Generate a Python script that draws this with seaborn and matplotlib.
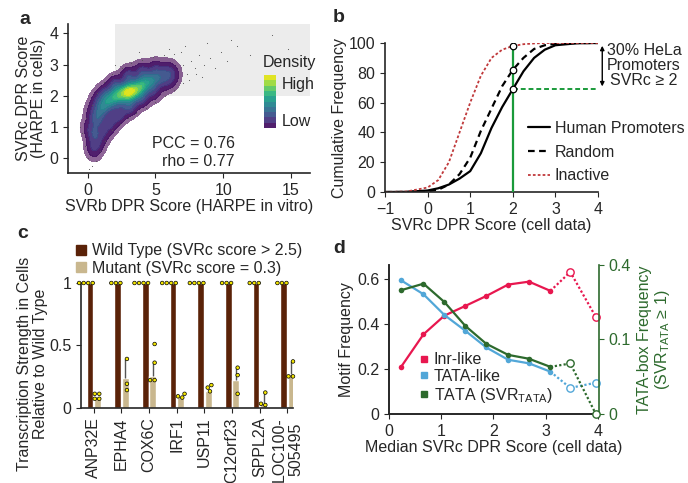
import numpy as np
import pandas as pd
import matplotlib
matplotlib.use("Agg")
import matplotlib.pyplot as plt
import seaborn as sns
from matplotlib.lines import Line2D
from matplotlib.patches import Rectangle

sns.set_style("ticks")
plt.rcParams['font.family'] = ['Liberation Sans', 'DejaVu Sans']
plt.rcParams['font.size'] = 11.5
plt.rcParams['mathtext.fontset'] = 'custom'
plt.rcParams['mathtext.rm'] = 'Liberation Sans'
plt.rcParams['axes.linewidth'] = 1.2

# ---- panel a: density cloud, three rows across the banana ----
cloud_x = [0.0, 0.3, 0.7, 1.2, 2.0, 3.0, 4.0, 5.0, 5.9, 6.4,
           0.35, 0.45, 0.7, 1.1, 1.6, 2.2, 2.8, 3.3, 3.9, 4.5, 5.1, 5.7, 6.2,
           0.5, 0.8, 1.2, 1.7, 2.3, 3.1, 4.0, 4.9, 5.8, 6.3]
cloud_y = [1.0, 1.5, 1.85, 2.1, 2.38, 2.65, 2.8, 2.9, 2.9, 2.8,
           0.4, 0.8, 1.25, 1.6, 1.85, 2.0, 2.1, 2.15, 2.3, 2.45, 2.55, 2.65, 2.65,
           0.15, 0.45, 0.8, 1.1, 1.4, 1.65, 1.9, 2.1, 2.35, 2.5]
cloud_w = [0.15, 0.18, 0.22, 0.27, 0.35, 0.4, 0.35, 0.25, 0.15, 0.1,
           0.2, 0.35, 0.45, 0.55, 0.65, 0.8, 0.95, 1.0, 0.85, 0.6, 0.4, 0.25, 0.12,
           0.12, 0.18, 0.24, 0.3, 0.4, 0.45, 0.35, 0.25, 0.15, 0.1]
speck_x = [7.0, 7.3, 7.6, 7.9, 8.2, 8.6, 9.0, 9.4, 9.8, 10.3, 11.0, 12.0, 13.6, 14.8,
           6.9, 6.4, 5.6, 4.8, 4.0, 3.2, 2.5, 1.8, 1.2, 0.7, 0.3, -0.1, -0.4, -0.2,
           0.0, 0.3, 0.6, 0.9, 1.3, 1.8, 2.4, 3.0, 3.6, 4.3, 5.0, 5.7, 6.4, 7.0,
           7.5, 8.0, 8.4, -0.6, 0.1, 2.0, 3.8, 6.0, 7.2, 8.8, 10.6]
speck_y = [3.0, 2.7, 3.1, 2.9, 3.3, 3.0, 3.2, 2.9, 3.4, 3.1, 3.6, 3.3, 3.95, 3.5,
           3.4, 3.35, 3.3, 3.25, 3.15, 3.05, 2.9, 2.7, 2.45, 2.1, 1.7, 1.3, 0.8, 0.4,
           0.0, -0.25, -0.1, 0.25, 0.55, 0.9, 1.1, 1.3, 1.45, 1.6, 1.8, 2.0, 2.2, 2.4,
           2.5, 2.7, 2.6, 1.0, -0.35, 3.0, 3.4, 3.5, 3.6, 3.7, 3.8]

# ---- panel b: cumulative curves ----
cdf_x = [-1, -0.5, 0, 0.25, 0.5, 0.75, 1, 1.25, 1.5, 1.75, 2, 2.25, 2.5, 2.75, 3, 3.5, 4]
human = [0, 0.1, 1, 2.5, 5, 9, 14, 26, 43, 57, 69, 81, 90, 95.5, 98.5, 99.8, 100]
random_seq = [0, 0, 0.5, 1.5, 5, 12, 23, 41, 56, 71, 82, 90, 96, 98.5, 99.5, 100, 100]
inactive = [0, 0.3, 3, 8, 20, 40, 60, 78, 90, 95.5, 98, 99.2, 99.7, 100, 100, 100, 100]

# ---- panel c: mutation assay ----
genes = ["ANP32E", "EPHA4", "COX6C", "IRF1", "USP11", "C12orf23", "SPPL2A", "LOC100-\n505495"]
wt_bar = [1, 1, 1, 1, 1, 1, 1, 1]
mut_bar = [0.09, 0.24, 0.25, 0.09, 0.13, 0.22, 0.04, 0.27]
mut_err_top = [0.09, 0.39, 0.36, 0.09, 0.13, 0.32, 0.12, 0.37]
wt_reps = [[1, 1, 1, 1], [1, 1, 1], [1, 1, 1, 1], [1, 1, 1, 1],
           [1, 1, 1, 1], [1, 1, 1], [1, 1, 1], [1, 1, 1]]
mut_reps = [[0.11, 0.11, 0.07, 0.07], [0.39, 0.19, 0.14], [0.51, 0.36, 0.22, 0.22],
            [0.11, 0.09, 0.08], [0.18, 0.16, 0.13], [0.32, 0.26, 0.11],
            [0.12, 0.03, 0.02], [0.37, 0.25, 0.25]]

# ---- panel d: motif frequencies ----
d_x = [0.23, 0.66, 1.06, 1.46, 1.86, 2.28, 2.68, 3.09, 3.47, 3.96]
inr = [0.209, 0.354, 0.437, 0.480, 0.524, 0.575, 0.588, 0.547, 0.631, 0.431]
tata_like = [0.594, 0.532, 0.44, 0.370, 0.296, 0.241, 0.225, 0.188, 0.116, 0.139]
tata = [0.276, 0.306, 0.226, 0.140, 0.089, 0.063, 0.055, 0.040, 0.046, 0.0]

W, H = 688, 483
fig = plt.figure(figsize=(6.88, 4.83), dpi=100)


def px_axes(l, t, w, h):
    return fig.add_axes([l / W, 1 - (t + h) / H, w / W, h / H])


# ================= a =================
ax_a = px_axes(68, 24, 242, 149)
ax_a.add_patch(Rectangle((2, 2), 20, 5, color="#ececec", lw=0, zorder=0))
cax = px_axes(264, 75, 12, 53)
# gaussian smoothing of the weighted cloud (axis-aligned kernel, ~7 px wide)
gx, gy = np.meshgrid(np.linspace(-1.45, 16.4, 400), np.linspace(-0.47, 4.3, 260))
dens = np.zeros_like(gx)
for cx, cy, cw in zip(cloud_x, cloud_y, cloud_w):
    dens += cw * np.exp(-0.5 * (((gx - cx) / 0.38) ** 2 + ((gy - cy) / 0.2) ** 2))
dens /= dens.max()
ax_a.contourf(gx, gy, dens, levels=[0.035, 0.1], colors=["#440154"], alpha=0.6, zorder=1)
cs = ax_a.contourf(gx, gy, dens, levels=np.linspace(0.1, 1.0, 11), cmap="viridis",
                   alpha=0.95, zorder=2)
fig.colorbar(cs, cax=cax)
ax_a.scatter(speck_x, speck_y, s=0.6, color="#555555", lw=0, zorder=3)
cax.set_yticks([])
cax.set_xticks([])
cax.minorticks_off()
for s in cax.spines.values():
    s.set_visible(False)
fig.text(263 / W, 1 - 63 / H, "Density", va="center")
fig.text(282 / W, 1 - 85 / H, "High", va="center")
fig.text(282 / W, 1 - 122 / H, "Low", va="center")
ax_a.set_xlim(-1.45, 16.4)
ax_a.set_ylim(-0.47, 4.3)
ax_a.set_xticks([0, 5, 10, 15])
ax_a.set_yticks([0, 1, 2, 3, 4])
ax_a.set_xlabel("SVRb DPR Score (HARPE in vitro)", labelpad=1)
ax_a.set_ylabel("SVRc DPR Score\n(HARPE in cells)", labelpad=2, linespacing=1.0)
ax_a.text(0.69, 0.2, "PCC = 0.76", transform=ax_a.transAxes, ha="right", va="center")
ax_a.text(0.69, 0.074, "rho = 0.77", transform=ax_a.transAxes, ha="right", va="center")
sns.despine(ax=ax_a)
fig.text(19 / W, 1 - 20 / H, "a", fontsize=14, fontweight="bold", va="center")

# ================= b =================
ax_b = px_axes(385, 43, 213, 149)
sns.lineplot(x=cdf_x, y=human, color="black", lw=1.6, ax=ax_b)
sns.lineplot(x=cdf_x, y=random_seq, color="black", lw=1.6, ls=(0, (3, 2)), ax=ax_b)
sns.lineplot(x=cdf_x, y=inactive, color="#c0393b", lw=1.3, ls=(0, (1.5, 1.2)), ax=ax_b)
i2 = cdf_x.index(2)
ax_b.vlines(2, 0, inactive[i2], color="#1a9a3a", lw=1.6, zorder=4)
ax_b.hlines(human[i2], 2, 4, color="#1a9a3a", lw=1.4, ls=(0, (2.5, 1.5)), zorder=4)
ax_b.scatter([2, 2, 2], [inactive[i2], random_seq[i2], human[i2]],
             s=22, facecolor="white", edgecolor="black", lw=0.9, zorder=5)
ax_b.annotate("", xy=(4.1, 100), xytext=(4.1, human[i2]),
              arrowprops=dict(arrowstyle="<|-|>", color="black", lw=1, mutation_scale=6),
              annotation_clip=False)
ax_b.text(5.08, 85, "30% HeLa\nPromoters\nSVRc ≥ 2", ha="center", va="center",
          linespacing=1.0)
ax_b.set_xlim(-1, 4)
ax_b.set_ylim(0, 100)
ax_b.set_xticks([-1, 0, 1, 2, 3, 4])
ax_b.set_xticklabels(["\u22121", "0", "1", "2", "3", "4"])
ax_b.set_yticks([0, 20, 40, 60, 80, 100])
ax_b.set_xlabel("SVRc DPR Score (cell data)", labelpad=1)
ax_b.set_ylabel("Cumulative Frequency", labelpad=1)
handles_b = [Line2D([], [], color="black", lw=1.6),
             Line2D([], [], color="black", lw=1.6, ls=(0, (3, 2))),
             Line2D([], [], color="#c0393b", lw=1.3, ls=(0, (1.5, 1.2)))]
ax_b.legend(handles_b, ["Human Promoters", "Random", "Inactive"], frameon=False,
            loc="upper left", bbox_to_anchor=(0.64, 0.52), handlelength=1.4,
            handletextpad=0.3, labelspacing=0.55, borderaxespad=0)
sns.despine(ax=ax_b)
fig.text(333 / W, 1 - 17 / H, "b", fontsize=14, fontweight="bold", va="center")

# ================= c =================
ax_c = px_axes(81, 283, 212, 124.5)
conds = ["Wild Type (SVRc score > 2.5)", "Mutant (SVRc score = 0.3)"]
bars = pd.DataFrame({"gene": genes * 2, "value": wt_bar + mut_bar,
                     "cond": [conds[0]] * 8 + [conds[1]] * 8})
pts = pd.DataFrame([(g, conds[0], v) for g, r in zip(genes, wt_reps) for v in r] +
                   [(g, conds[1], v) for g, r in zip(genes, mut_reps) for v in r],
                   columns=["gene", "cond", "value"])
colors_c = ["#5a2208", "#c9b78e"]
sns.barplot(data=bars, x="gene", y="value", hue="cond", order=genes, hue_order=conds,
            palette=colors_c, saturation=1, width=0.55, gap=0.1, ax=ax_c, legend=False)
ax_c.vlines(np.arange(8) + 0.1375, mut_bar, mut_err_top, color="#555555", lw=1, zorder=3)
sns.swarmplot(data=pts, x="gene", y="value", hue="cond", order=genes, hue_order=conds,
              dodge=True, palette=["#f2e400", "#f2e400"], size=2.6, edgecolor="black",
              linewidth=0.5, ax=ax_c, legend=False, zorder=4)
for coll in ax_c.collections:
    coll.set_clip_on(False)
ax_c.set_xlim(-0.46, 7.2)
ax_c.set_ylim(0, 1)
ax_c.set_yticks([0, 0.5, 1])
ax_c.set_yticklabels(["0", "0.5", "1"])
ax_c.tick_params(axis="x", rotation=90)
ax_c.set_xlabel("")
ax_c.set_ylabel("Transcription Strength in Cells\nRelative to Wild Type", linespacing=1.1)
ax_c.yaxis.set_label_coords(-0.156, 0.35)
handles_c = [Line2D([], [], marker="s", ls="", color=c, markersize=7) for c in colors_c]
ax_c.legend(handles_c, conds, frameon=False, loc="upper left", bbox_to_anchor=(-0.07, 1.37),
            handletextpad=0.2, labelspacing=0.15, borderaxespad=0, handlelength=1)
sns.despine(ax=ax_c)
fig.text(17 / W, 1 - 233 / H, "c", fontsize=14, fontweight="bold", va="center")

# ================= d =================
ax_d = px_axes(389, 265, 210, 149)
ax_r = ax_d.twinx()
c_inr, c_tl, c_t = "#e8174f", "#52a7d8", "#2d6a2d"
n = 8
for ys, col, axx in [(inr, c_inr, ax_d), (tata_like, c_tl, ax_d), (tata, c_t, ax_r)]:
    sns.lineplot(x=d_x[:n], y=ys[:n], color=col, lw=1.6, marker="o", markersize=4,
                 markeredgewidth=0, ax=axx)
    sns.lineplot(x=d_x[n - 1:], y=ys[n - 1:], color=col, lw=1.6, ls=(0, (1, 1)), ax=axx)
    axx.scatter(d_x[n:], ys[n:], s=28, facecolor="white", edgecolor=col, lw=1, zorder=5,
                clip_on=False)
ax_r.set_yscale("function", functions=(lambda v: np.sqrt(np.clip(v, 0, None)), np.square))
ax_d.set_xlim(0, 4.02)
ax_d.set_ylim(0, 0.662)
ax_r.set_ylim(0, 0.4)
ax_d.set_xticks([0, 1, 2, 3, 4])
ax_d.set_yticks([0, 0.2, 0.4, 0.6])
ax_d.set_yticklabels(["0", "0.2", "0.4", "0.6"])
ax_r.set_yticks([0, 0.1, 0.4])
ax_r.set_yticklabels(["0", "0.1", "0.4"])
ax_r.minorticks_off()
ax_d.set_xlabel("Median SVRc DPR Score (cell data)", labelpad=1)
ax_d.set_ylabel("Motif Frequency", labelpad=2)
ax_r.set_ylabel("TATA-box Frequency\n(SVR$_{\\mathrm{TATA}}$ ≥ 1)", color=c_t, labelpad=4,
                linespacing=1.1)
ax_r.tick_params(axis="y", colors=c_t)
ax_r.spines["right"].set_color(c_t)
ax_r.spines["top"].set_visible(False)
ax_d.spines["top"].set_visible(False)
ax_d.spines["right"].set_visible(False)
handles_d = [Line2D([], [], marker="s", ls="", color=c, markersize=5) for c in (c_inr, c_tl, c_t)]
ax_d.legend(handles_d, ["Inr-like", "TATA-like", "TATA (SVR$_{\\mathrm{TATA}}$)"],
            frameon=False, loc="lower left", bbox_to_anchor=(0.1, 0.02),
            handletextpad=0.1, labelspacing=0.1, borderaxespad=0, handlelength=1)
fig.text(333 / W, 1 - 248 / H, "d", fontsize=14, fontweight="bold", va="center")

fig.savefig("out.png", dpi=100)
